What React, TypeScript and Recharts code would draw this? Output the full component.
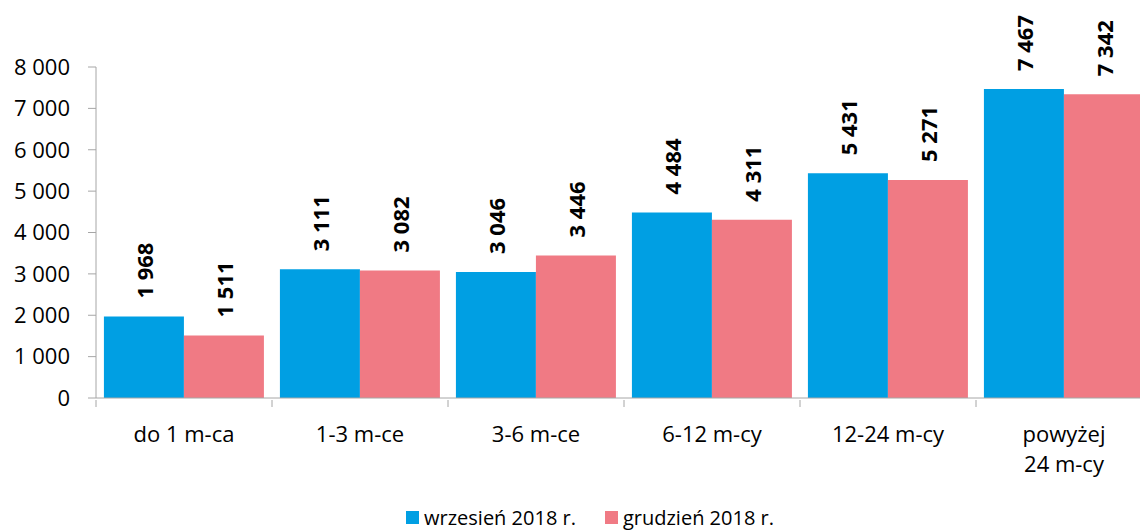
import { Bar, BarChart, LabelList, Legend, XAxis, YAxis } from "recharts"

const CATEGORIES = ["do 1 m-ca", "1-3 m-ce", "3-6 m-ce", "6-12 m-cy", "12-24 m-cy", "powyżej\n24 m-cy"]
const WRZESIEN = [1968, 3111, 3046, 4484, 5431, 7467]
const GRUDZIEN = [1511, 3082, 3446, 4311, 5271, 7342]
const Y_TICKS = [0, 1000, 2000, 3000, 4000, 5000, 6000, 7000, 8000]

const SERIES = [
  { key: "wrz", name: "wrzesień 2018 r.", color: "#009FE3" },
  { key: "gru", name: "grudzień 2018 r.", color: "#F07A84" },
]

const FONT = "'Open Sans', 'Liberation Sans', sans-serif"
const AXIS_COLOR = "#A6A6A6"
// the original plot runs a little past the right edge of the picture
const PLOT_RIGHT = -12
const BAND = (1140 - PLOT_RIGHT - 96) / CATEGORIES.length

const data = CATEGORIES.map((name, i) => ({ name, wrz: WRZESIEN[i], gru: GRUDZIEN[i] }))

const fmt = (v: number) => String(v).replace(/\B(?=(\d{3})+(?!\d))/g, " ")

function CategoryTick(props: any) {
  const { x, y, payload } = props
  const lines = String(payload.value).split("\n")
  return (
    <g>
      <line x1={x - BAND / 2} x2={x - BAND / 2} y1={y - 6} y2={y + 1} stroke={AXIS_COLOR} />
      <text x={x} y={y + 36} textAnchor="middle" fontSize={22} fill="#000" fontFamily={FONT}>
        {lines.map((l, i) => (
          <tspan key={i} x={x} dy={i === 0 ? 0 : 30}>
            {l}
          </tspan>
        ))}
      </text>
    </g>
  )
}

function ValueLabel(props: any) {
  const { x, y, width, value } = props
  const cx = x + width / 2
  const cy = y - 18
  return (
    <text
      x={cx}
      y={cy}
      transform={`rotate(-90 ${cx} ${cy})`}
      textAnchor="start"
      dominantBaseline="central"
      fontSize={22}
      fontWeight="bold"
      fill="#000"
      fontFamily={FONT}
    >
      {fmt(value)}
    </text>
  )
}

function LegendBox() {
  return (
    <div
      style={{
        display: "flex",
        justifyContent: "center",
        alignItems: "center",
        gap: 29,
        paddingTop: 12,
        paddingLeft: 28,
        fontFamily: FONT,
        fontSize: 20,
        color: "#000",
      }}
    >
      {SERIES.map((s) => (
        <span key={s.key} style={{ display: "flex", alignItems: "center" }}>
          <span style={{ width: 13, height: 13, background: s.color, marginRight: 5, display: "inline-block" }} />
          {s.name}
        </span>
      ))}
    </div>
  )
}

export default function App() {
  return (
    <div style={{ position: "fixed", left: 0, top: 0, width: 1140, height: 532, background: "#fff", overflow: "hidden" }}>
      <BarChart
        width={1140}
        height={532}
        data={data}
        margin={{ top: 67, right: PLOT_RIGHT, bottom: 0, left: 0 }}
        barCategoryGap="4.5%"
        barGap={0}
      >
        <YAxis
          width={96}
          domain={[0, 8000]}
          ticks={Y_TICKS}
          interval={0}
          tickFormatter={(v) => fmt(Number(v))}
          tick={{ fill: "#000", fontSize: 22, fontFamily: FONT }}
          axisLine={{ stroke: AXIS_COLOR }}
          tickLine={{ stroke: AXIS_COLOR }}
          tickSize={8}
          tickMargin={18}
        />
        <XAxis
          dataKey="name"
          height={94}
          interval={0}
          axisLine={{ stroke: AXIS_COLOR }}
          tickLine={false}
          tick={<CategoryTick />}
        />
        <Legend verticalAlign="bottom" height={40} content={<LegendBox />} />
        {SERIES.map((s) => (
          <Bar key={s.key} dataKey={s.key} name={s.name} fill={s.color} isAnimationActive={false}>
            <LabelList dataKey={s.key} content={<ValueLabel />} />
          </Bar>
        ))}
      </BarChart>
    </div>
  )
}
